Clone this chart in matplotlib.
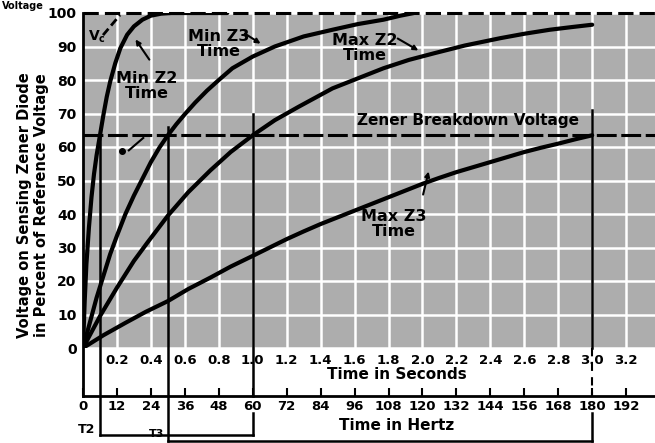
import matplotlib
matplotlib.use('Agg')
import matplotlib.pyplot as plt

plt.rcParams['font.family'] = ['DejaVu Sans']
plt.rcParams['font.weight'] = 'bold'

# ---- data (time in seconds, voltage in % of reference) ----
min_z2_t = [0, 0.01, 0.02, 0.035, 0.05, 0.065, 0.08, 0.10, 0.12, 0.14, 0.16, 0.19, 0.22,
            0.26, 0.30, 0.35, 0.40, 0.46, 0.52, 0.85]
min_z2_v = [0, 14, 25, 36, 45, 52, 57.5, 63.5, 69.5, 75, 79.5, 85, 89.5,
            93.5, 96, 98, 99.2, 99.8, 100, 100]

min_z3_t = [0, 0.04, 0.08, 0.12, 0.16, 0.20, 0.25, 0.30, 0.35, 0.40, 0.45, 0.50, 0.55, 0.60,
            0.66, 0.73, 0.80, 0.88, 1.00, 1.13, 1.30, 1.47, 1.62, 1.77, 1.87, 1.95]
min_z3_v = [0, 7.5, 15, 21.5, 28, 33.5, 40, 45.5, 50.5, 55.5, 59.8, 63.5, 66.8, 69.8,
            73.2, 76.8, 80, 83.5, 87, 90, 93, 95, 96.7, 98, 99.2, 100]

max_z2_t = [0, 0.10, 0.20, 0.30, 0.38, 0.50, 0.62, 0.75, 0.87, 1.00, 1.13, 1.27, 1.47, 1.62,
            1.77, 1.92, 2.07, 2.25, 2.46, 2.60, 2.75, 2.88, 3.00]
max_z2_v = [0, 9.5, 18, 26, 31.5, 39.5, 46.5, 53, 58.5, 63.5, 68, 72, 77.5, 80.5,
            83.5, 86, 88, 90.3, 92.5, 93.8, 95, 95.8, 96.5]

max_z3_t = [0, 0.12, 0.25, 0.37, 0.50, 0.62, 0.75, 0.87, 1.00, 1.10, 1.20, 1.30, 1.40, 1.50,
            1.60, 1.70, 1.80, 1.90, 2.00, 2.10, 2.20, 2.30, 2.40, 2.50, 2.60, 2.70, 2.80,
            2.90, 3.00]
max_z3_v = [0, 3.8, 7.5, 10.8, 14, 17.6, 21, 24.3, 27.5, 30, 32.5, 34.8, 37, 39,
            41, 43, 45, 47, 49, 50.8, 52.5, 54, 55.5, 57, 58.5, 59.8, 61,
            62.3, 63.5]

zener_level = 63.5
ref_level = 100
t_marks = [0.1, 0.5, 1.0, 3.0]          # Min Z2, Min Z3, Max Z2, Max Z3 at breakdown
t_mark_tops = [63.5, 66, 70, 71]

sec_ticks = [0.2, 0.4, 0.6, 0.8, 1.0, 1.2, 1.4, 1.6, 1.8, 2.0, 2.2, 2.4, 2.6, 2.8, 3.0, 3.2]
sec_labels = ['0.2', '0.4', '0.6', '0.8', '1.0', '1.2', '1.4', '1.6', '1.8', '2.0',
              '2.2', '2.4', '2.6', '2.8', '3.0', '3.2']
hz_ticks = [0, 12, 24, 36, 48, 60, 72, 84, 96, 108, 120, 132, 144, 156, 168, 180, 192]
pct_ticks = [0, 10, 20, 30, 40, 50, 60, 70, 80, 90, 100]

# ---- figure ----
W_PX, H_PX = 655, 443
fig = plt.figure(figsize=(W_PX / 100, H_PX / 100), dpi=100)
x0, xr, y0, yt = 83, 655, 348, 13
ax = fig.add_axes([x0 / W_PX, (H_PX - y0) / H_PX, (xr - x0) / W_PX, (y0 - yt) / H_PX])
ax.set_xlim(0, 3.37)
ax.set_ylim(0, 100)
ax.set_facecolor('#adadad')
for s in ax.spines.values():
    s.set_visible(False)

ax.set_xticks(sec_ticks)
ax.set_xticklabels(sec_labels)
ax.set_yticks(pct_ticks)
ax.tick_params(axis='x', length=0, labelsize=9.5, pad=4)
ax.tick_params(axis='y', length=0, labelsize=10, pad=4.5)
ax.grid(True, color='white', lw=1.8)
ax.set_axisbelow(True)

px_per_pct = (y0 - yt) / 100.0
hz_axis_y = -(396 - y0) / px_per_pct
t2_y = -(435 - y0) / px_per_pct
t3_y = -(441 - y0) / px_per_pct
lab_bottom = -(413 - y0) / px_per_pct

# hertz axis
secax = ax.secondary_xaxis(hz_axis_y / 100.0, functions=(lambda x: x * 60, lambda h: h / 60))
secax.set_xticks(hz_ticks)
secax.tick_params(direction='in', length=5.5, width=1.5, labelsize=9.5, pad=3)
secax.spines['bottom'].set_linewidth(2)
secax.set_xlim(0, 3.37 * 60)

# y axis line
ax.plot([0, 0], [ref_level, hz_axis_y], color='black', lw=2, clip_on=False, zorder=5)

# reference and breakdown dashed lines
ax.axhline(ref_level, color='black', lw=2.2, dashes=(5, 2), clip_on=False, zorder=3)
ax.axhline(zener_level, color='black', lw=2.2, dashes=(6.5, 1.5), clip_on=False, zorder=3)

# curves
for t, v in [(min_z2_t, min_z2_v), (min_z3_t, min_z3_v), (max_z2_t, max_z2_v), (max_z3_t, max_z3_v)]:
    ax.plot(t, v, color='black', lw=3, solid_capstyle='round', solid_joinstyle='round', zorder=4)

# vertical time markers
lk = dict(color='black', lw=1.8, clip_on=False, zorder=5)
ax.plot([t_marks[0], t_marks[0]], [t_mark_tops[0], t2_y], **lk)
ax.plot([t_marks[1], t_marks[1]], [t_mark_tops[1], t3_y], **lk)
ax.plot([t_marks[2], t_marks[2]], [t_mark_tops[2], hz_axis_y], **lk)
ax.plot([t_marks[2], t_marks[2]], [lab_bottom, t2_y], **lk)
ax.plot([t_marks[3], t_marks[3]], [t_mark_tops[3], 0], **lk)
ax.plot([t_marks[3], t_marks[3]], [0, hz_axis_y], color='black', lw=1.5, dashes=(4, 3),
        clip_on=False, zorder=5)
ax.plot([t_marks[3], t_marks[3]], [lab_bottom, t3_y], **lk)
# brackets
ax.plot([t_marks[0], t_marks[2]], [t2_y, t2_y], **lk)
ax.plot([t_marks[1], t_marks[3]], [t3_y, t3_y], **lk)
ax.text(0.07, t2_y + 1.5, 'T2', ha='right', va='center', fontsize=9)
ax.text(0.48, t3_y + 0.6, 'T3', ha='right', va='bottom', fontsize=8)

# Vc pointer
ax.plot([0.118, 0.218], [93.4, 99.4], color='black', lw=2, dashes=(3, 1.5), zorder=5)
ax.text(0.083, 92.8, r'V$_\mathbf{c}$', ha='center', va='center', fontsize=10)

# small dot marker
ax.plot([0.23], [58.8], 'o', color='black', ms=4, zorder=5)
ax.plot([0.27, 0.355], [59, 62.7], color='black', lw=1.5, zorder=5)

# curve labels
tk = dict(ha='center', va='center', fontsize=11.5, linespacing=1.0, zorder=6)
ax.text(0.375, 78.2, 'Min Z2\nTime', **tk)
ax.text(0.80, 90.7, 'Min Z3\nTime', **tk)
ax.text(1.66, 89.6, 'Max Z2\nTime', **tk)
ax.text(1.83, 37, 'Max Z3\nTime', **tk)
ax.text(2.27, 67.8, 'Zener Breakdown Voltage', ha='center', va='center', fontsize=11, zorder=6)

ap = dict(arrowstyle='-|>', color='black', lw=1.5, mutation_scale=7)
ax.annotate('', xy=(0.30, 92.8), xytext=(0.40, 85.4), arrowprops=ap)
ax.annotate('', xy=(1.06, 90.4), xytext=(0.94, 94.3), arrowprops=ap)
ax.annotate('', xy=(1.99, 88.4), xytext=(1.84, 92.8), arrowprops=ap)
ax.annotate('', xy=(2.04, 53.5), xytext=(2.00, 45), arrowprops=ap)

# axis titles
ax.text(1.85, -7.8, 'Time in Seconds', ha='center', va='center', fontsize=11, clip_on=False)
ax.text(1.845, -23, 'Time in Hertz', ha='center', va='center', fontsize=11, clip_on=False)
fig.text(33 / W_PX, 1 - 205 / H_PX,
         'Voltage on Sensing Zener Diode\nin Percent of Reference Voltage',
         rotation=90, ha='center', va='center', multialignment='center',
         fontsize=10.5, linespacing=1.1)
fig.text(2 / W_PX, 1 - 1 / H_PX, 'Voltage', ha='left', va='top', fontsize=7)

fig.savefig('out.png', dpi=100)
